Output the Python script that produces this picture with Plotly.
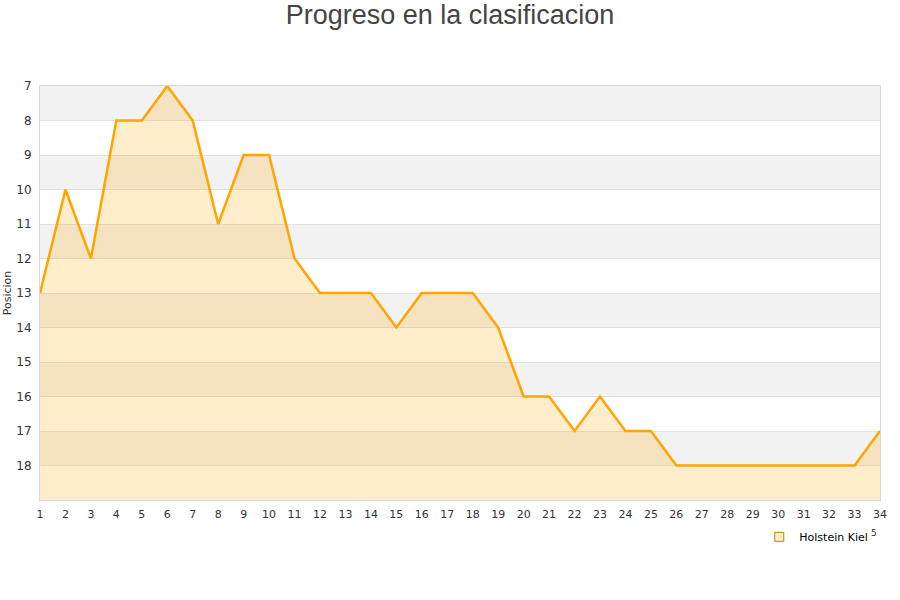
import plotly.graph_objects as go

jornadas = list(range(1, 35))
posiciones = [13, 10, 12, 8, 8, 7, 8, 11, 9, 9, 12, 13, 13, 13, 14, 13, 13, 13, 14, 16,
              16, 17, 16, 17, 17, 18, 18, 18, 18, 18, 18, 18, 18, 17]
y_ticks = list(range(7, 19))
equipo = "Holstein Kiel"

fig = go.Figure()

# alternating bands
for k in range(7, 19):
    if (k - 7) % 2 == 0:
        fig.add_shape(type="rect", xref="paper", yref="y", x0=0, x1=1, y0=k, y1=k + 1,
                      fillcolor="#f2f2f2", line_width=0, layer="below")

fig.add_trace(go.Scatter(x=jornadas, y=[19] * len(jornadas), mode="lines",
                         line=dict(width=0), showlegend=False, hoverinfo="skip"))
fig.add_trace(go.Scatter(x=jornadas, y=posiciones, mode="lines", fill="tonexty",
                         fillcolor="rgba(255,165,0,0.2)",
                         line=dict(color="#ffa500", width=2.5), showlegend=False,
                         name=equipo))
fig.add_trace(go.Scatter(x=[None], y=[None], mode="markers", name=equipo,
                         marker=dict(symbol="square", size=9, color="#ffeecc",
                                     line=dict(color="#b8860b", width=1))))

fig.update_layout(
    width=900, height=600,
    paper_bgcolor="white", plot_bgcolor="white",
    margin=dict(l=40, r=20, t=86, b=100, autoexpand=False),
    title=dict(text="Progreso en la clasificacion", x=0.5, xanchor="center",
               y=0.975, yanchor="middle",
               font=dict(family="Liberation Sans", size=27, color="#444")),
    font=dict(family="DejaVu Sans", color="#333"),
    xaxis=dict(range=[1, 34], tickvals=jornadas, ticktext=[str(j) for j in jornadas],
               showgrid=False, zeroline=False, showline=True, linecolor="#d8d8d8",
               mirror=True, ticks="", automargin=False, ticklabelstandoff=4,
               tickfont=dict(size=11, color="#333")),
    yaxis=dict(range=[19, 7], tickvals=y_ticks, showgrid=True, gridcolor="#e0e0e0",
               zeroline=False, showline=True, linecolor="#d8d8d8", mirror=True,
               ticks="", automargin=False, ticklabelstandoff=5,
               tickfont=dict(size=12, color="#333"),
               title=dict(text="Posicion", font=dict(size=11, color="#333"), standoff=2)),
    legend=dict(x=0.992, xanchor="right", y=-0.054, yanchor="top",
                font=dict(size=11, color="#000"), bgcolor="rgba(0,0,0,0)"),
    showlegend=True,
)
fig.add_annotation(text="5", xref="paper", yref="paper", x=0.9986, y=-0.096,
                   showarrow=False, font=dict(size=9, color="#333"))

fig.write_html("out.html", config={"displayModeBar": False},
               post_script="document.body.style.margin='0';")
